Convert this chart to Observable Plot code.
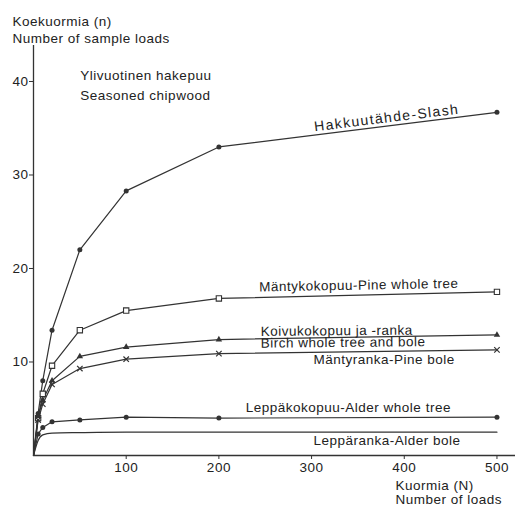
<!DOCTYPE html>
<html>
<head>
<meta charset="utf-8">
<script src="https://cdn.jsdelivr.net/npm/d3@7"></script>
<script src="https://cdn.jsdelivr.net/npm/@observablehq/plot@0.6"></script>
<style>
  html, body { margin: 0; padding: 0; background: #fff; }
  svg text { letter-spacing: 0.5px; }
  svg .wide-label text { letter-spacing: 1.4px; }
</style>
</head>
<body>
<div id="chart"></div>
<script>
// Data
const loads = [0, 5, 10, 20, 50, 100, 200, 500];
const slash = [0, 4.5, 8.0, 13.4, 22.0, 28.3, 33.0, 36.7];
const pineWhole = [0, 4.0, 6.6, 9.6, 13.4, 15.5, 16.8, 17.5];
const birch = [0, 4.2, 5.9, 8.0, 10.6, 11.6, 12.4, 12.9];
const pineBole = [0, 3.8, 5.5, 7.6, 9.3, 10.3, 10.9, 11.3];
const alderWhole = [0, 2.3, 3.0, 3.6, 3.8, 4.1, 4.0, 4.1];
const alderBole = [0, 1.6, 2.2, 2.4, 2.45, 2.5, 2.5, 2.5];
const yTicks = [10, 20, 30, 40];
const xTicks = [100, 200, 300, 400, 500];

const toRows = (vals) => loads.map((x, i) => ({x, y: vals[i]}));
const withMarkers = (vals) => toRows(vals).filter(d => d.x > 0);

const ink = "#333";
const lineStyle = {x: "x", y: "y", stroke: ink, strokeWidth: 1.2};

// label annotations (text and anchor in data coordinates)
const slashLabel = [{t: "Hakkuutähde-Slash", x: 381, y: 36.1, r: -7}];
const labels = [
  {t: "Mäntykokopuu-Pine whole tree", x: 351, y: 18.2, a: "middle", r: -1},
  {t: "Koivukokopuu ja -ranka", x: 245, y: 13.25, a: "start", r: -0.5},
  {t: "Birch whole tree and bole", x: 245, y: 12.0, a: "start", r: -0.5},
  {t: "Mäntyranka-Pine bole", x: 302, y: 10.27, a: "start", r: 0},
  {t: "Leppäkokopuu-Alder whole tree", x: 229, y: 5.13, a: "start", r: 0},
  {t: "Leppäranka-Alder bole", x: 302, y: 1.6, a: "start", r: 0},
  {t: "Ylivuotinen hakepuu", x: 50.5, y: 40.6, a: "start", r: 0},
  {t: "Seasoned chipwood", x: 50.5, y: 38.5, a: "start", r: 0}
];
const fs = 13.5;
const txt = {fill: "#222", fontSize: fs};

const chart = Plot.plot({
  width: 521,
  height: 511,
  marginLeft: 33,
  marginRight: 6,
  marginTop: 45,
  marginBottom: 56,
  x: {domain: [0, 520]},
  y: {domain: [0, 43.85]},
  style: {fontFamily: "'Liberation Sans', Arial, Helvetica, sans-serif", fontSize: "13px", color: "#222", background: "white"},
  marks: [
    Plot.ruleY([0], {stroke: ink, strokeWidth: 1.3}),
    Plot.ruleX([0], {stroke: ink, strokeWidth: 1.3}),
    Plot.axisY({ticks: yTicks, tickSize: 4, tickPadding: 1, label: null, fontSize: fs, stroke: ink}),
    Plot.axisX({ticks: xTicks, tickSize: 4, tickPadding: 3, label: null, fontSize: fs, stroke: ink}),

    Plot.line(toRows(slash), lineStyle),
    Plot.line(toRows(pineWhole), lineStyle),
    Plot.line(toRows(birch), lineStyle),
    Plot.line(toRows(pineBole), lineStyle),
    Plot.line(toRows(alderWhole), lineStyle),
    Plot.line(toRows(alderBole), {...lineStyle, curve: "monotone-x"}),

    Plot.dot(withMarkers(slash), {x: "x", y: "y", r: 2.5, fill: ink, symbol: "circle"}),
    Plot.dot(withMarkers(alderWhole), {x: "x", y: "y", r: 2.5, fill: ink, symbol: "circle"}),
    Plot.dot(withMarkers(pineWhole), {x: "x", y: "y", r: 3.0, fill: "white", stroke: ink, strokeWidth: 1.1, symbol: "square"}),
    Plot.dot(withMarkers(birch), {x: "x", y: "y", r: 2.4, fill: ink, symbol: "triangle"}),
    Plot.dot(withMarkers(pineBole), {x: "x", y: "y", r: 2.6, stroke: ink, strokeWidth: 1.2, symbol: "times"}),

    Plot.text(slashLabel, {x: "x", y: "y", text: "t", textAnchor: "middle", rotate: "r", className: "wide-label", fill: "#222", fontSize: 14}),
    Plot.text(labels.filter(d => d.a === "middle"), {x: "x", y: "y", text: "t", textAnchor: "middle", rotate: "r", ...txt}),
    Plot.text(labels.filter(d => d.a === "start"), {x: "x", y: "y", text: "t", textAnchor: "start", rotate: "r", ...txt}),

    Plot.text(["Koekuormia (n)"], {frameAnchor: "top-left", dx: -21, dy: -29, textAnchor: "start", ...txt}),
    Plot.text(["Number of sample loads"], {frameAnchor: "top-left", dx: -21, dy: -12, textAnchor: "start", ...txt}),
    Plot.text(["Kuormia (N)"], {frameAnchor: "bottom-left", dx: 362, dy: 34, textAnchor: "start", ...txt}),
    Plot.text(["Number of loads"], {frameAnchor: "bottom-left", dx: 362, dy: 48, textAnchor: "start", ...txt})
  ]
});
document.getElementById("chart").appendChild(chart);
</script>
</body>
</html>
